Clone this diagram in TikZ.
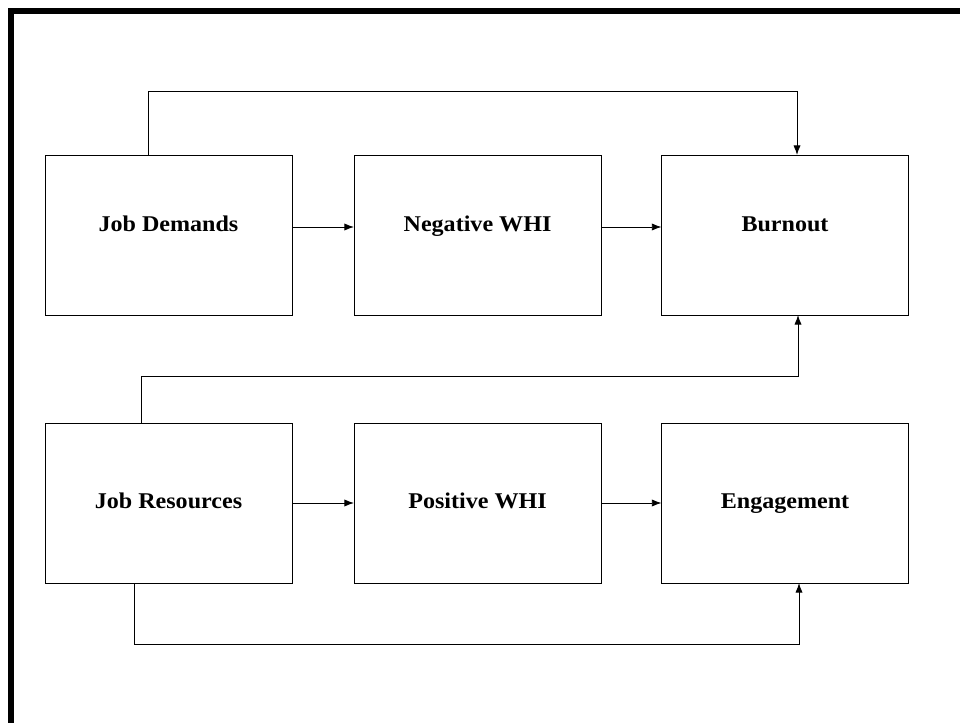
\documentclass[tikz,border=0pt]{standalone}
\usepackage{fontspec}
\setmainfont{Liberation Serif}
\newfontfamily\boxfont[FakeStretch=1.07]{Liberation Serif}
\usetikzlibrary{arrows.meta}

\tikzset{
    box/.style={draw, line width=0.6pt, minimum width=6.175cm, minimum height=4cm,
        inner sep=0pt, outer sep=0pt, font=\boxfont\fontsize{16}{19}\selectfont\bfseries},
    uprow/.style={text height=0.1cm, text depth=0.3cm},
    lowrow/.style={text height=0.3cm, text depth=0.05cm},
    arr/.style={-{Latex[length=2.4mm,width=1.8mm]}, line width=0.6pt}
}

\begin{document}
\begin{tikzpicture}[x=0.025cm,y=-0.025cm]
        \useasboundingbox (0,0) rectangle (960,723);
        % frame
        \draw[line width=3.6pt] (960,11)--(11,11)--(11,723);
        % upper row
        \node[box,uprow] (dem) at (168.5,235) {Job Demands};
        \node[box,uprow] (neg) at (477.5,235) {Negative WHI};
        \node[box,uprow] (burn) at (785,235) {Burnout};
        % lower row
        \node[box,lowrow] (res) at (168.5,503) {Job Resources};
        \node[box,lowrow] (pos) at (477.5,503) {Positive WHI};
        \node[box,lowrow] (eng) at (785,503) {Engagement};
        \draw[arr] ([yshift=0.2cm]dem.east)--([yshift=0.2cm]neg.west);
        \draw[arr] ([yshift=0.2cm]neg.east)--([yshift=0.2cm]burn.west);
        \draw[arr] (res)--(pos);
        \draw[arr] (pos)--(eng);
        % direct paths
        \draw[arr] ([xshift=-0.5cm]dem.north) -- ++(0,-64) -| ([xshift=0.3cm]burn.north);
        \draw[arr] ([xshift=-0.675cm]res.north) -- ++(0,-47) -| ([xshift=0.325cm]burn.south);
        \draw[arr] ([xshift=-0.85cm]res.south) -- ++(0,61) -| ([xshift=0.35cm]eng.south);
    \end{tikzpicture}
\end{document}
